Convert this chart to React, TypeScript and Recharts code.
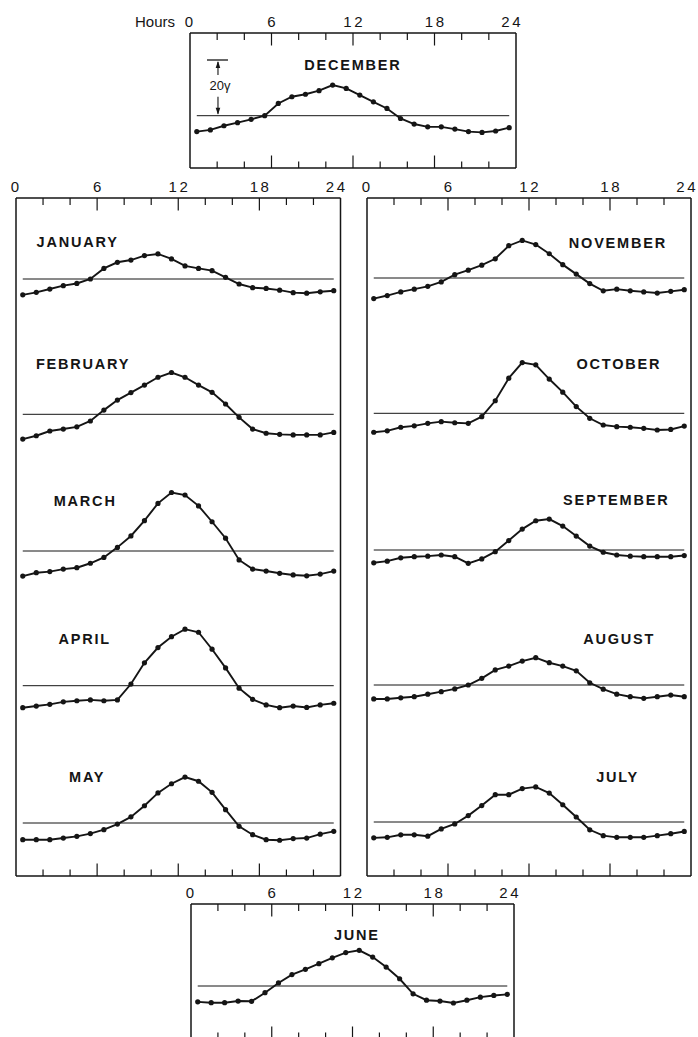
import React from 'react';
import { LineChart, Line, XAxis, YAxis, ReferenceLine } from 'recharts';

// ---------- data ----------
const HOURS = [0.5, 1.5, 2.5, 3.5, 4.5, 5.5, 6.5, 7.5, 8.5, 9.5, 10.5, 11.5, 12.5, 13.5, 14.5, 15.5, 16.5, 17.5, 18.5, 19.5, 20.5, 21.5, 22.5, 23.5];
const TICK_HOURS = [0, 2, 4, 6, 8, 10, 12, 14, 16, 18, 20, 22, 24];
const LABEL_HOURS = [0, 6, 12, 18, 24];

// deviations from the mean level, in gamma
const DECEMBER = [-5.7, -5.1, -3.6, -2.5, -1.3, 0, 4.4, 6.8, 7.7, 9.0, 11.0, 9.8, 7.4, 5.0, 2.6, -1.0, -3.0, -4.0, -4.0, -4.8, -5.7, -6.0, -5.5, -4.3];
const JANUARY = [-5.7, -4.8, -3.6, -2.4, -1.6, 0, 3.8, 6.0, 6.8, 8.4, 9.0, 7.2, 4.7, 3.8, 3.0, 0.6, -1.8, -3.1, -3.4, -4.0, -4.9, -5.1, -4.6, -4.2];
const FEBRUARY = [-8.9, -7.7, -6.0, -5.3, -4.5, -2.4, 1.5, 5.1, 7.8, 10.5, 13.3, 15.0, 13.3, 10.5, 7.9, 3.7, -1.1, -5.3, -6.8, -7.2, -7.4, -7.4, -7.4, -6.5];
const MARCH = [-9.0, -7.8, -7.4, -6.5, -6.0, -4.4, -2.3, 1.3, 5.4, 10.9, 17.1, 21.0, 20.1, 16.2, 10.5, 4.6, -3.2, -6.5, -7.2, -8.0, -8.6, -8.9, -8.3, -7.2];
const APRIL = [-7.9, -7.3, -6.7, -5.8, -5.4, -5.1, -5.4, -5.1, 0.6, 8.2, 13.7, 17.6, 20.3, 19.2, 13.1, 6.4, -0.9, -4.9, -6.9, -7.9, -7.3, -7.8, -6.9, -6.3];
const MAY = [-6.0, -6.0, -6.0, -5.4, -4.8, -3.8, -2.4, -0.4, 2.2, 6.2, 10.8, 14.1, 16.5, 15.0, 11.0, 4.8, -1.2, -4.2, -6.0, -6.2, -5.6, -5.4, -4.0, -3.0];
const JUNE = [-5.7, -6.0, -6.0, -5.4, -5.5, -2.4, 1.1, 4.1, 6.0, 8.0, 10.1, 12.0, 12.8, 10.4, 6.8, 2.6, -2.8, -5.1, -5.4, -6.1, -5.1, -4.0, -3.4, -3.0];
const JULY = [-5.7, -5.5, -4.6, -4.6, -5.1, -2.5, -0.7, 2.3, 5.9, 9.8, 9.8, 12.0, 12.6, 10.4, 6.2, 1.8, -2.8, -4.9, -5.5, -5.5, -5.5, -4.9, -4.2, -3.4];
const AUGUST = [-5.0, -5.0, -4.6, -4.2, -3.3, -2.4, -1.4, 0, 2.4, 5.4, 6.8, 8.6, 9.8, 8.0, 6.8, 5.1, 0.8, -1.5, -3.3, -4.2, -4.8, -4.2, -3.6, -4.2];
const SEPTEMBER = [-4.6, -4.0, -2.8, -2.4, -2.2, -1.8, -2.4, -4.8, -3.2, -0.6, 3.4, 7.5, 10.5, 11.1, 8.6, 5.0, 1.4, -0.8, -1.8, -2.2, -2.4, -2.4, -2.4, -2.0];
const OCTOBER = [-6.8, -6.3, -5.0, -4.5, -3.6, -3.0, -3.4, -3.6, -1.2, 4.5, 12.6, 18.2, 17.4, 12.3, 7.6, 2.4, -1.8, -4.2, -4.8, -5.0, -5.4, -6.0, -5.8, -4.6];
const NOVEMBER = [-7.4, -6.3, -5.0, -4.0, -3.0, -1.4, 1.2, 2.8, 4.6, 6.9, 11.6, 13.5, 12.0, 8.7, 4.8, 1.4, -2.0, -4.6, -4.0, -4.6, -5.0, -5.4, -4.8, -4.2];

const SCALE_GAMMA = 20;

// ---------- layout / style ----------
const INK = '#151515';
const FONT = '"Liberation Sans", Arial, Helvetica, sans-serif';
const PX_PER_GAMMA = 2.785;
const TOP_AXIS = 24;
const BOTTOM_AXIS = 2;
const SIDE_L = 56;
const SIDE_R = 16;

type MonthLayout = { name: string; values: number[]; lineY: number; labelX: number; labelDy: number };
type PanelLayout = { left: number; top: number; width: number; height: number; hours?: boolean; scaleBar?: boolean; months: MonthLayout[] };

const PANELS: PanelLayout[] = [
  {
    left: 190, top: 33, width: 326, height: 135, hours: true, scaleBar: true,
    months: [{ name: 'DECEMBER', values: DECEMBER, lineY: 82.7, labelX: 162, labelDy: -50.7 }],
  },
  {
    left: 15.5, top: 198, width: 324.5, height: 678,
    months: [
      { name: 'JANUARY', values: JANUARY, lineY: 81, labelX: 60.8, labelDy: -37.3 },
      { name: 'FEBRUARY', values: FEBRUARY, lineY: 216.3, labelX: 66.2, labelDy: -51 },
      { name: 'MARCH', values: MARCH, lineY: 353, labelX: 68.3, labelDy: -50 },
      { name: 'APRIL', values: APRIL, lineY: 487.7, labelX: 67.8, labelDy: -46.7 },
      { name: 'MAY', values: MAY, lineY: 625, labelX: 70.3, labelDy: -46.3 },
    ],
  },
  {
    left: 367, top: 198, width: 324, height: 678,
    months: [
      { name: 'NOVEMBER', values: NOVEMBER, lineY: 80, labelX: 250, labelDy: -35.7 },
      { name: 'OCTOBER', values: OCTOBER, lineY: 215.3, labelX: 251, labelDy: -50 },
      { name: 'SEPTEMBER', values: SEPTEMBER, lineY: 352, labelX: 248.3, labelDy: -50 },
      { name: 'AUGUST', values: AUGUST, lineY: 487, labelX: 251.3, labelDy: -46.7 },
      { name: 'JULY', values: JULY, lineY: 624, labelX: 249.7, labelDy: -45.3 },
    ],
  },
  {
    left: 191, top: 904, width: 323, height: 135,
    months: [{ name: 'JUNE', values: JUNE, lineY: 82, labelX: 165, labelDy: -51 }],
  },
];

const makeTopTick = (withHours: boolean) => (props: any) => {
  const { x, y, payload } = props;
  const v = payload.value as number;
  const major = LABEL_HOURS.includes(v);
  const inner = v > 0 && v < 24;
  const shift = v === 24 ? -5 : v === 0 ? -1 : 0;
  return (
    <g>
      {inner && <line x1={x} x2={x} y1={y} y2={y + (major ? 12.5 : 7)} stroke={INK} strokeWidth={1.2} />}
      {major && (
        <text x={x + shift} y={y - 6.5} textAnchor="middle" fontSize={15} letterSpacing={2.5} dx={1.2} fill={INK} fontFamily={FONT}>
          {v}
        </text>
      )}
      {withHours && v === 0 && (
        <text x={x - 15} y={y - 6.5} textAnchor="end" fontSize={15} fill={INK} fontFamily={FONT}>
          Hours
        </text>
      )}
    </g>
  );
};

const BottomTick = (props: any) => {
  const { x, y, payload } = props;
  const v = payload.value as number;
  const major = LABEL_HOURS.includes(v);
  if (v <= 0 || v >= 24) return <g />;
  return <line x1={x} x2={x} y1={y} y2={y - (major ? 12.5 : 6.5)} stroke={INK} strokeWidth={1.2} />;
};

const MonthLabel = (props: any) => {
  const { viewBox, text, relX, dy } = props;
  const x0 = viewBox ? viewBox.x : 0;
  const y0 = viewBox ? viewBox.y : 0;
  return (
    <text x={x0 + relX} y={y0 + dy + 5.3} dx={0.9} textAnchor="middle" fontSize={14.5} fontWeight={700} letterSpacing={1.8} fill={INK} fontFamily={FONT}>
      {text}
    </text>
  );
};

const ScaleBarShape = (props: any) => {
  const { x1, y1, x2, y2 } = props; // (x1,y1) = mean level, (x2,y2) = +20 gamma
  const ah = 5;
  return (
    <g>
      <line x1={x2 - 11} x2={x2 + 10} y1={y2} y2={y2} stroke={INK} strokeWidth={1.3} />
      <line x1={x2} x2={x2} y1={y2 + 2} y2={y2 + 15} stroke={INK} strokeWidth={1.1} />
      <polygon points={`${x2},${y2 + 1} ${x2 - 2.3},${y2 + 1 + ah + 2} ${x2 + 2.3},${y2 + 1 + ah + 2}`} fill={INK} />
      <text x={x2 + 2} y={y1 - 25.5} textAnchor="middle" fontSize={13} fill={INK} fontFamily={FONT}>
        20γ
      </text>
      <line x1={x1} x2={x1} y1={y1 - 19} y2={y1 - 2} stroke={INK} strokeWidth={1.1} />
      <polygon points={`${x1},${y1 - 1} ${x1 - 2.3},${y1 - 1 - ah - 2} ${x1 + 2.3},${y1 - 1 - ah - 2}`} fill={INK} />
    </g>
  );
};

function Panel({ p }: { p: PanelLayout }) {
  const data = HOURS.map((h, i) => {
    const row: Record<string, number> = { hour: h };
    p.months.forEach((m) => {
      row[m.name] = m.values[i];
    });
    return row;
  });
  const chartW = p.width + 2 + SIDE_L + SIDE_R;
  const chartH = TOP_AXIS + p.height + BOTTOM_AXIS;
  const pxPerHour = p.width / 24;
  return (
    <div style={{ position: 'absolute', left: p.left - 1 - SIDE_L, top: p.top - TOP_AXIS }}>
      <LineChart width={chartW} height={chartH} data={data} margin={{ top: 0, right: SIDE_R, bottom: 0, left: SIDE_L }}>
        <XAxis
          xAxisId="top"
          orientation="top"
          dataKey="hour"
          type="number"
          domain={[0, 24]}
          ticks={TICK_HOURS}
          interval={0}
          height={TOP_AXIS}
          tickSize={0}
          tickMargin={0}
          tickLine={false}
          axisLine={{ stroke: INK, strokeWidth: 1.5 }}
          tick={makeTopTick(!!p.hours)}
          allowDataOverflow
        />
        <XAxis
          xAxisId="bottom"
          orientation="bottom"
          dataKey="hour"
          type="number"
          domain={[0, 24]}
          ticks={TICK_HOURS}
          interval={0}
          height={BOTTOM_AXIS}
          tickSize={0}
          tickMargin={0}
          tickLine={false}
          axisLine={{ stroke: INK, strokeWidth: 1.5 }}
          tick={BottomTick}
          allowDataOverflow
        />
        <YAxis yAxisId="frameL" orientation="left" width={1} type="number" domain={[0, 1]} tick={false} tickLine={false} axisLine={{ stroke: INK, strokeWidth: 1.5 }} />
        <YAxis yAxisId="frameR" orientation="right" width={1} type="number" domain={[0, 1]} tick={false} tickLine={false} axisLine={{ stroke: INK, strokeWidth: 1.5 }} />
        {p.months.map((m, i) => (
          <YAxis
            key={`ya-${m.name}`}
            yAxisId={`m${i}`}
            hide
            type="number"
            allowDataOverflow
            domain={[-(p.height - m.lineY) / PX_PER_GAMMA, m.lineY / PX_PER_GAMMA]}
          />
        ))}
        {p.months.map((m, i) => (
          <ReferenceLine
            key={`ref-${m.name}`}
            xAxisId="top"
            yAxisId={`m${i}`}
            segment={[{ x: HOURS[0], y: 0 }, { x: HOURS[HOURS.length - 1], y: 0 }]}
            stroke={INK}
            strokeWidth={1}
            ifOverflow="visible"
            label={<MonthLabel text={m.name} relX={m.labelX - HOURS[0] * pxPerHour} dy={m.labelDy} />}
          />
        ))}
        {p.scaleBar && (
          <ReferenceLine
            xAxisId="top"
            yAxisId="m0"
            segment={[{ x: 2.06, y: 0 }, { x: 2.06, y: SCALE_GAMMA }]}
            ifOverflow="visible"
            shape={ScaleBarShape}
          />
        )}
        {p.months.map((m, i) => (
          <Line
            key={`line-${m.name}`}
            xAxisId="top"
            yAxisId={`m${i}`}
            dataKey={m.name}
            type="linear"
            stroke={INK}
            strokeWidth={1.9}
            dot={{ r: 2.6, fill: INK, stroke: INK, strokeWidth: 0 }}
            activeDot={false}
            isAnimationActive={false}
          />
        ))}
      </LineChart>
    </div>
  );
}

export default function App() {
  return (
    <div style={{ position: 'absolute', left: 0, top: 0, width: 698, height: 1037, overflow: 'hidden', background: '#fff' }}>
      {PANELS.map((p, i) => (
        <Panel key={i} p={p} />
      ))}
    </div>
  );
}
